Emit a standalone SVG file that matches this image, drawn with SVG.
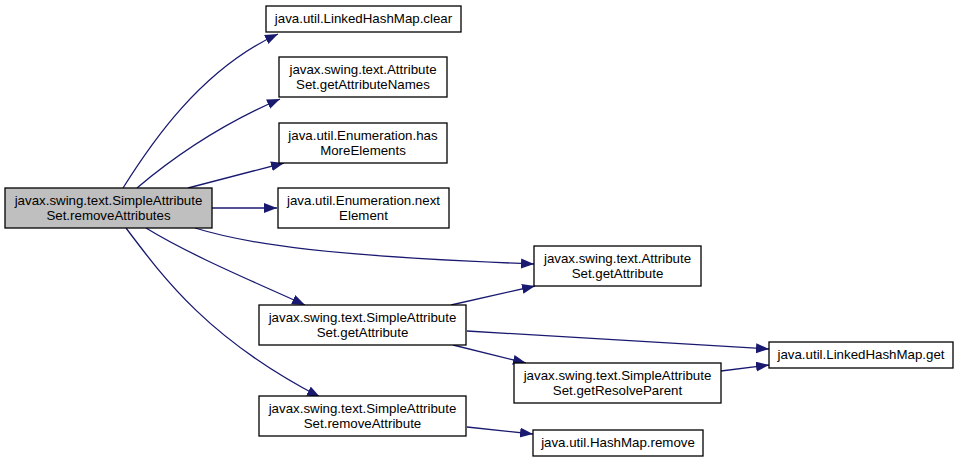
<svg xmlns="http://www.w3.org/2000/svg" width="959" height="461" viewBox="0 0 959 461">
<style>
.n rect{fill:#fff;stroke:#000;stroke-width:1.3}
.n.m rect{fill:#bfbfbf}
.n text{font-family:"Liberation Sans",Arial,sans-serif;font-size:13.3px;fill:#000;text-anchor:middle}
.e path{fill:none;stroke:#191970;stroke-width:1.3}
</style>
<defs>
<marker id="a" markerUnits="userSpaceOnUse" markerWidth="14" markerHeight="11" refX="13" refY="5" orient="auto">
<path d="M0,0 L13,5 L0,10 z" fill="#191970" stroke="none"/>
</marker>
</defs>
<rect width="959" height="461" fill="#fff"/>
<g class="e">
<path d="M123,188 C150,145 200,70 278,34" marker-end="url(#a)"/>
<path d="M137,188 C170,160 220,125 280,99" marker-end="url(#a)"/>
<path d="M188,188 L284,163" marker-end="url(#a)"/>
<path d="M212,208 L277,208" marker-end="url(#a)"/>
<path d="M195,228 C250,245 330,256 534,264" marker-end="url(#a)"/>
<path d="M146,228 C190,255 250,280 305,305" marker-end="url(#a)"/>
<path d="M126,228 C165,280 210,340 320,397" marker-end="url(#a)"/>
<path d="M451,305 L535,286" marker-end="url(#a)"/>
<path d="M467,331 L769,349" marker-end="url(#a)"/>
<path d="M453,345 L526,363" marker-end="url(#a)"/>
<path d="M721,371 L769,365" marker-end="url(#a)"/>
<path d="M467,427 L533,434" marker-end="url(#a)"/>
</g>
<g id="main" class="n m"><rect x="5" y="188" width="207" height="40"/><text x="108.5" y="205">javax.swing.text.SimpleAttribute</text><text x="108.5" y="220">Set.removeAttributes</text></g>
<g id="lhm_clear" class="n"><rect x="266" y="6" width="195" height="26"/><text x="363.5" y="23">java.util.LinkedHashMap.clear</text></g>
<g id="as_names" class="n"><rect x="279" y="57" width="168" height="40"/><text x="363" y="74">javax.swing.text.Attribute</text><text x="363" y="89">Set.getAttributeNames</text></g>
<g id="enum_has" class="n"><rect x="279" y="123" width="168" height="40"/><text x="363" y="140">java.util.Enumeration.has</text><text x="363" y="155">MoreElements</text></g>
<g id="enum_next" class="n"><rect x="278" y="188" width="171" height="40"/><text x="363.5" y="205">java.util.Enumeration.next</text><text x="363.5" y="220">Element</text></g>
<g id="as_get" class="n"><rect x="534" y="246" width="167" height="40"/><text x="617.5" y="263">javax.swing.text.Attribute</text><text x="617.5" y="278">Set.getAttribute</text></g>
<g id="sas_get" class="n"><rect x="259" y="305" width="207" height="40"/><text x="362.5" y="322">javax.swing.text.SimpleAttribute</text><text x="362.5" y="337">Set.getAttribute</text></g>
<g id="sas_parent" class="n"><rect x="514" y="363" width="207" height="40"/><text x="617.5" y="380">javax.swing.text.SimpleAttribute</text><text x="617.5" y="395">Set.getResolveParent</text></g>
<g id="sas_remove" class="n"><rect x="259" y="396" width="207" height="40"/><text x="362.5" y="413">javax.swing.text.SimpleAttribute</text><text x="362.5" y="428">Set.removeAttribute</text></g>
<g id="hm_remove" class="n"><rect x="533" y="430" width="170" height="26"/><text x="618" y="447">java.util.HashMap.remove</text></g>
<g id="lhm_get" class="n"><rect x="769" y="342" width="184" height="26"/><text x="861" y="359">java.util.LinkedHashMap.get</text></g>
</svg>
